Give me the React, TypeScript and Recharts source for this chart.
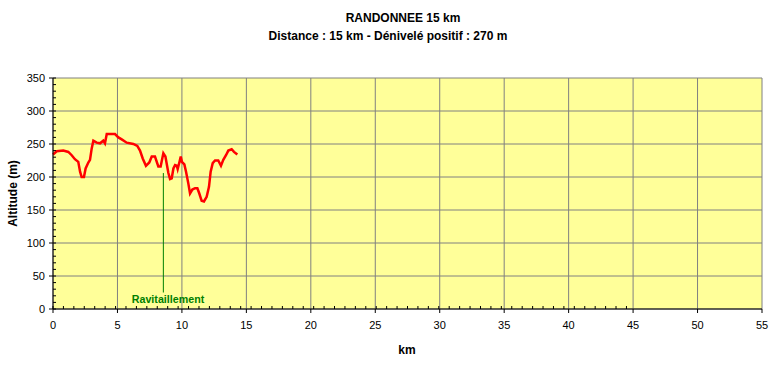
import React from 'react';
import { LineChart, Line, XAxis, YAxis, CartesianGrid, ReferenceLine } from 'recharts';

// distance (km) and altitude (m)
const distances = [0, 0.29, 0.8, 1.19, 1.45, 1.7, 1.96, 2.1, 2.22, 2.4, 2.53, 2.74, 2.87, 3.0, 3.13, 3.39, 3.65, 3.9, 4.03, 4.17, 4.81, 5.07, 5.33, 5.72, 6.23, 6.54, 6.75, 6.96, 7.21, 7.47, 7.66, 7.91, 8.17, 8.35, 8.56, 8.72, 8.95, 9.08, 9.21, 9.34, 9.47, 9.6, 9.67, 9.8, 9.91, 10.0, 10.19, 10.32, 10.5, 10.63, 10.81, 11.02, 11.2, 11.35, 11.53, 11.71, 11.92, 12.1, 12.23, 12.39, 12.57, 12.82, 13.03, 13.21, 13.42, 13.6, 13.86, 14.04, 14.3];
const altitudes = [234, 239, 240, 238, 233, 227, 223, 208, 200, 200, 213, 222, 226, 243, 255, 252, 251, 255, 251, 265, 265, 260, 257, 252, 250, 247, 240, 228, 217, 222, 231, 231, 216, 216, 236, 231, 206, 197, 198, 213, 218, 217, 212, 222, 231, 223, 219, 208, 190, 175, 181, 183, 183, 175, 164, 163, 170, 185, 208, 221, 225, 225, 217, 226, 233, 240, 242, 238, 234];

const xMajorTicks = [0, 5, 10, 15, 20, 25, 30, 35, 40, 45, 50, 55];
const xMinorTicks = Array.from({ length: 56 }, (_, i) => i);
const yMajorTicks = [0, 50, 100, 150, 200, 250, 300, 350];
const yMinorTicks = Array.from({ length: 36 }, (_, i) => i * 10);

// supply point marker
const ravitoKm = 8.56;
const ravitoTop = 206;
const ravitoBottom = 25;

const data = distances.map((km, i) => ({ km, alt: altitudes[i] }));

const font = '"Liberation Sans", Arial, sans-serif';

// small inward tick marks (tickSize is 0 so x/y sit on the axis line)
const MinorTickX = (props: any) => (
    <line x1={props.x} y1={props.y} x2={props.x} y2={props.y - 3} stroke="#000" strokeWidth={1} />
);

// y ticks every 10 m, label + outward tick only every 50 m
const AltTick = (props: any) => {
    const { x, y, payload } = props;
    const major = payload.value % 50 === 0;
    return (
        <g>
            <line x1={major ? x - 4 : x} y1={y} x2={x + 3} y2={y} stroke="#000" strokeWidth={1} />
            {major && (
                <text x={x - 8} y={y} dy="0.355em" textAnchor="end" fontSize={11} fill="#000">
                    {payload.value}
                </text>
            )}
        </g>
    );
};

const App: React.FC = () => {
    return (
        <div style={{ position: 'absolute', left: 0, top: 0, width: 773, height: 365, background: '#fff' }}>
            <LineChart
                width={773}
                height={365}
                data={data}
                margin={{ top: 78, right: 11, left: 0, bottom: 0 }}
                style={{ fontFamily: font }}
            >
                <CartesianGrid
                    stroke="#808080"
                    fill="#FFFF99"
                    fillOpacity={1}
                    horizontalValues={yMajorTicks}
                    verticalValues={xMajorTicks}
                />
                <XAxis
                    dataKey="km"
                    type="number"
                    domain={[0, 55]}
                    ticks={xMajorTicks}
                    height={56}
                    tickSize={4}
                    tickMargin={8}
                    axisLine={{ stroke: '#000' }}
                    tickLine={{ stroke: '#000' }}
                    tick={{ fill: '#000', fontSize: 11 }}
                />
                <XAxis
                    xAxisId="minor"
                    type="number"
                    domain={[0, 55]}
                    ticks={xMinorTicks}
                    interval={0}
                    mirror
                    height={1}
                    tick={MinorTickX}
                    tickSize={0}
                    tickMargin={0}
                    axisLine={false}
                    tickLine={false}
                />
                <YAxis
                    type="number"
                    domain={[0, 350]}
                    ticks={yMinorTicks}
                    interval={0}
                    width={53}
                    tickSize={0}
                    tickMargin={0}
                    axisLine={{ stroke: '#000' }}
                    tickLine={false}
                    tick={AltTick}
                />

                {/* Ravitaillement marker */}
                <ReferenceLine
                    segment={[{ x: ravitoKm, y: ravitoTop }, { x: ravitoKm, y: ravitoBottom }]}
                    stroke="#008000"
                    strokeWidth={1}
                />

                <Line
                    dataKey="alt"
                    type="linear"
                    stroke="#FF0000"
                    strokeWidth={2.5}
                    dot={false}
                    activeDot={false}
                    isAnimationActive={false}
                />
            </LineChart>

            <svg
                width={773}
                height={365}
                style={{ position: 'absolute', left: 0, top: 0, pointerEvents: 'none', fontFamily: font }}
            >
                <text x={403} y={22} textAnchor="middle" fontSize={12} fontWeight="bold" fill="#000">
                    RANDONNEE 15 km
                </text>
                <text x={388} y={40} textAnchor="middle" fontSize={12} fontWeight="bold" fill="#000">
                    Distance : 15 km - Dénivelé positif : 270 m
                </text>
                <text
                    x={16.5}
                    y={193.5}
                    textAnchor="middle"
                    fontSize={12}
                    fontWeight="bold"
                    fill="#000"
                    transform="rotate(-90 16.5 193.5)"
                >
                    Altitude (m)
                </text>
                <text x={407} y={354} textAnchor="middle" fontSize={12} fontWeight="bold" fill="#000">
                    km
                </text>
                <text x={168} y={303} textAnchor="middle" fontSize={10.7} fontWeight="bold" fill="#008000">
                    Ravitaillement
                </text>
            </svg>
        </div>
    );
};

export default App;
